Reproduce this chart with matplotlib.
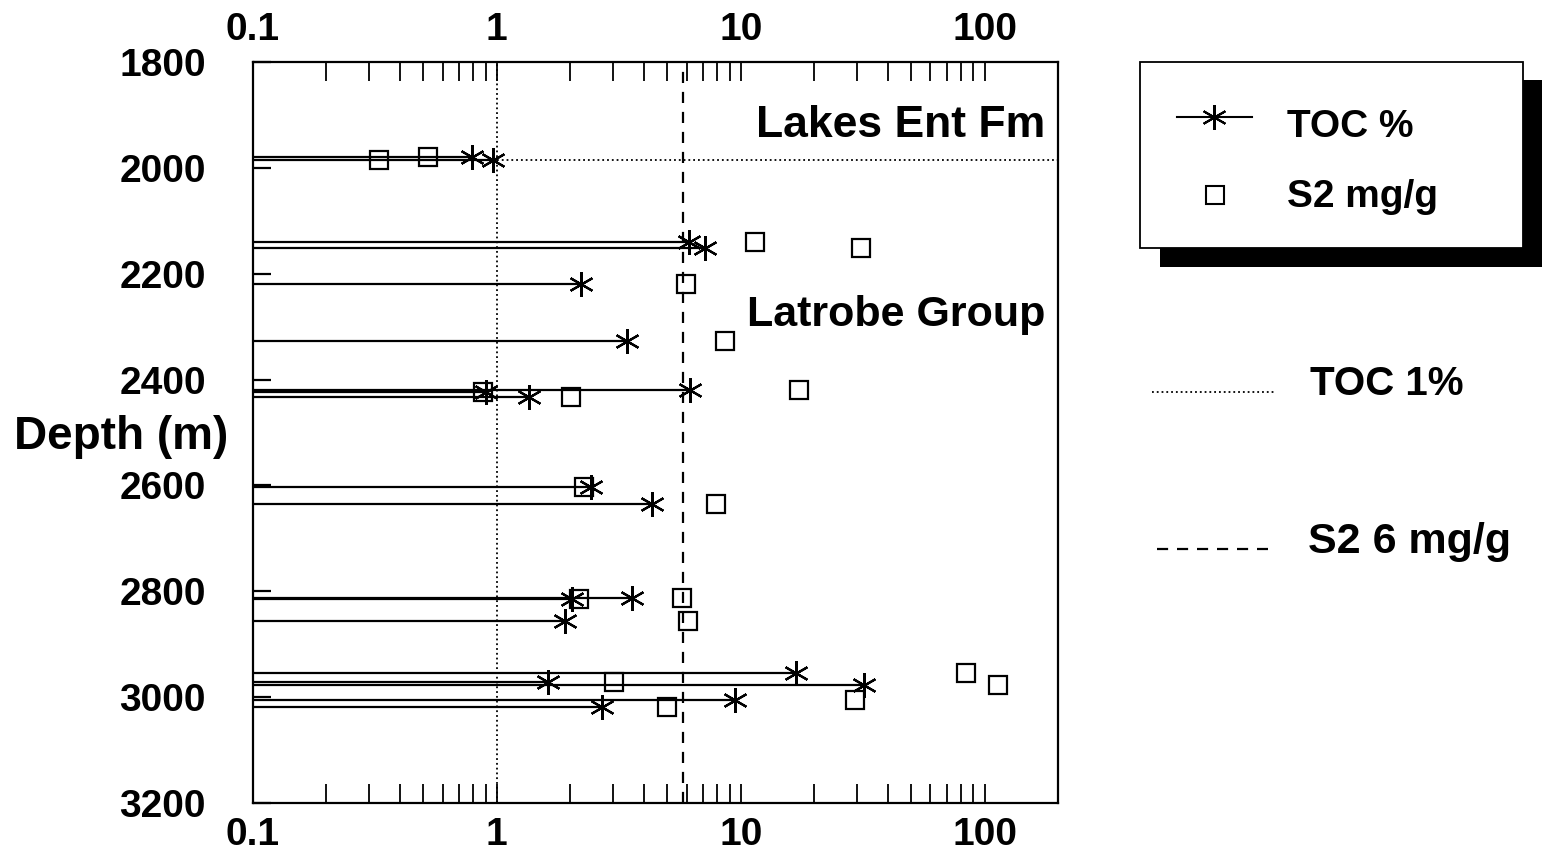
import numpy as np
import matplotlib
matplotlib.use("Agg")
import matplotlib.pyplot as plt
from matplotlib.lines import Line2D
from matplotlib.patches import Rectangle
from matplotlib.ticker import FixedLocator, FixedFormatter, LogLocator, NullFormatter

plt.rcParams['font.family'] = ['Liberation Sans', 'DejaVu Sans']
plt.rcParams['font.weight'] = 'bold'

depth = [1979, 1985, 2140, 2151, 2219, 2328, 2420, 2423, 2433, 2603,
         2635, 2815, 2812, 2856, 2954, 2971, 2977, 3005, 3018]
toc = [0.79, 0.96, 6.13, 7.12, 2.22, 3.42, 6.19, 0.90, 1.36, 2.44,
       4.33, 2.04, 3.58, 1.91, 16.8, 1.62, 32.1, 9.5, 2.70]
s2 = [0.52, 0.33, 11.4, 31.0, 5.96, 8.6, 17.3, 0.88, 2.02, 2.28,
      7.9, 2.18, 5.74, 6.07, 84.0, 3.02, 114.0, 29.3, 4.98]

toc_cutoff = 1.0
s2_cutoff = 5.8
boundary_depth = 1985

x_ticks = [0.1, 1, 10, 100]
x_labels = ['0.1', '1', '10', '100']
y_ticks = [1800, 2000, 2200, 2400, 2600, 2800, 3000, 3200]

W, H = 1545, 865
fig = plt.figure(figsize=(W / 100, H / 100), dpi=100)
ax = fig.add_axes([253 / W, 1 - 803 / H, 805 / W, 741 / H])

ax.set_xscale('log')
ax.set_xlim(0.1, 200)
ax.set_ylim(3200, 1800)

# TOC bars from the left edge + markers
ax.hlines(depth, 0.1, toc, color='black', lw=1.6, zorder=3)
ax.plot(toc, depth, ls='none', marker=(6, 2, 0), ms=18, mec='black', mew=1.6, zorder=4)
ax.plot(s2, depth, ls='none', marker='s', ms=12.5, mfc='none', mec='black', mew=1.6, zorder=4)

# cutoffs and formation boundary
ax.axvline(toc_cutoff, color='black', lw=1.3, ls=':', zorder=2)
ax.axvline(s2_cutoff, color='black', lw=1.6, dashes=(5, 4), zorder=2)
ax.axhline(boundary_depth, color='black', lw=1.3, ls=':', zorder=2)

ax.text(0.984, 0.8988, 'Lakes Ent Fm', transform=ax.transAxes, ha='right',
        va='baseline', fontsize=32)
ax.text(0.984, 0.6437, 'Latrobe Group', transform=ax.transAxes, ha='right',
        va='baseline', fontsize=31)

# ticks
ax.xaxis.set_major_locator(FixedLocator(x_ticks))
ax.xaxis.set_major_formatter(FixedFormatter(x_labels))
ax.xaxis.set_minor_locator(LogLocator(base=10, subs=np.arange(2, 10), numticks=30))
ax.xaxis.set_minor_formatter(NullFormatter())
ax.tick_params(axis='x', which='both', direction='in', top=True, bottom=True,
               labeltop=True, labelbottom=True, length=14, width=1.3,
               labelsize=28, pad=10)
ax.set_yticks(y_ticks)
ax.tick_params(axis='y', which='both', direction='in', left=True, right=False,
               length=13, width=1.6, labelsize=28, pad=34)
for s in ax.spines.values():
    s.set_linewidth(1.6)

fig.text(14 / W, 1 - 437 / H, 'Depth (m)', ha='left', va='center', fontsize=33)

# legend box with solid shadow
def fx(px):
    return px / W

def fy(py):
    return 1 - py / H

fig.add_artist(Rectangle((fx(1160), fy(267)), (1542 - 1160) / W, (267 - 80) / H,
                         transform=fig.transFigure, fc='black', ec='none'))
fig.add_artist(Rectangle((fx(1140), fy(248)), (1523 - 1140) / W, (248 - 62) / H,
                         transform=fig.transFigure, fc='white', ec='black', lw=1.3))
fig.add_artist(Line2D([fx(1177), fx(1252)], [fy(117)] * 2, transform=fig.transFigure,
                      color='black', lw=1.5))
fig.add_artist(Line2D([fx(1214)], [fy(117)], transform=fig.transFigure, ls='none',
                      marker=(6, 2, 0), ms=18, mec='black', mew=1.5))
fig.add_artist(Line2D([fx(1215)], [fy(195)], transform=fig.transFigure, ls='none',
                      marker='s', ms=12.5, mfc='none', mec='black', mew=1.5))
fig.text(fx(1287), fy(137), 'TOC %', va='baseline', fontsize=28)
fig.text(fx(1287), fy(207), 'S2 mg/g', va='baseline', fontsize=28)

# cutoff key
fig.add_artist(Line2D([fx(1152), fx(1275)], [fy(392)] * 2, transform=fig.transFigure,
                      color='black', lw=1.3, ls=':'))
fig.text(fx(1310), fy(395), 'TOC 1%', va='baseline', fontsize=29)
fig.add_artist(Line2D([fx(1157), fx(1268)], [fy(549)] * 2, transform=fig.transFigure,
                      color='black', lw=1.6, dashes=(5, 4)))
fig.text(fx(1308), fy(553), 'S2 6 mg/g', va='baseline', fontsize=31)

fig.savefig('out.png', dpi=100)
